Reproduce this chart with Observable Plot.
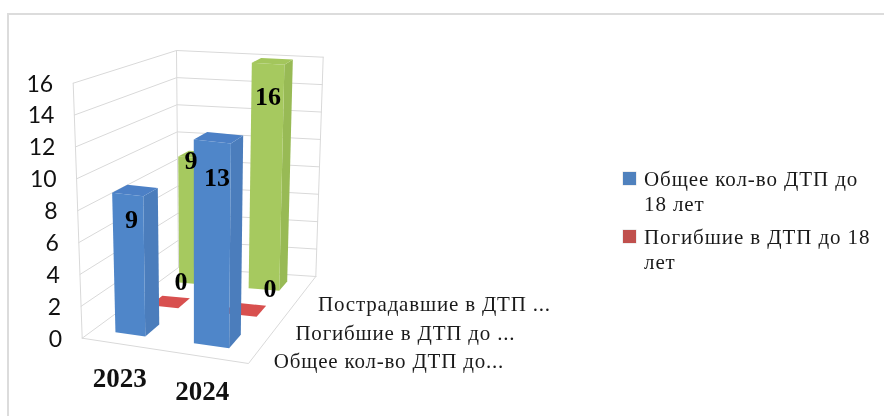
<!DOCTYPE html>
<html><head><meta charset="utf-8">
<script src="https://cdn.jsdelivr.net/npm/d3@7"></script>
<script src="https://cdn.jsdelivr.net/npm/@observablehq/plot@0.6"></script>
<style>
html,body{margin:0;padding:0;background:#fff;width:884px;height:416px;overflow:hidden}
#frame{position:absolute;left:7px;top:13px;width:900px;height:420px;border:2px solid #dcdcdc;box-sizing:border-box}
#chart{position:absolute;left:0;top:0;filter:blur(.45px)}
#legend{position:absolute;left:623px;top:167px;width:250px;font:21px "Liberation Serif",serif;letter-spacing:.9px;line-height:25px;color:#1a1a1a;filter:blur(.35px)}
#legend .row{position:relative;padding-left:21px;margin-bottom:8px}
#legend i{position:absolute;left:0;top:5px;width:13px;height:13px;box-shadow:0 0 0 .5px #ddd}
.ser{letter-spacing:.8px}
</style></head><body>
<div id="frame"></div><div id="chart"></div><div id="legend"></div>
<script>
const categories = ["2023","2024"];
const seriesNames = ["Общее кол-во ДТП до 18 лет","Погибшие в ДТП до 18 лет","Пострадавшие в ДТП до 18 лет"];
const depthLabels = ["Общее кол-во ДТП до...","Погибшие в ДТП до ...","Пострадавшие в ДТП ..."];
const totalValues = [9,13];
const deathValues = [0,0];
const injuredValues = [9,16];
const valueTicks = [0,2,4,6,8,10,12,14,16];
const legendColors = ["#4f81bd","#c0504d"];

// Perspective of the 3D box: floor corners, then the rise of the box above each corner
const zMax = 16;
const floorQuad = [[81.7,337.7],[248,363],[315.3,276],[178,267]];
const riseQuad  = [[-9,255],[3,261],[7.4,219.3],[-2,217]];
const depthAt = [1/6,.46,5/6];
function squareToQuad(q){
  const [[x0,y0],[x1,y1],[x2,y2],[x3,y3]] = q;
  const dx1=x1-x2,dx2=x3-x2,sx=x0-x1+x2-x3,dy1=y1-y2,dy2=y3-y2,sy=y0-y1+y2-y3;
  const den=dx1*dy2-dx2*dy1;
  const g=(sx*dy2-dx2*sy)/den,h=(dx1*sy-sx*dy1)/den;
  const a=x1-x0+g*x1,b=x3-x0+h*x3,c=x0,d=y1-y0+g*y1,e=y3-y0+h*y3,f=y0;
  return (u,v)=>{const w=g*u+h*v+1;return [(a*u+b*v+c)/w,(d*u+e*v+f)/w];};
}
const floorP = squareToQuad(floorQuad);
const bil = (k,u,v)=>{const p=Math.pow(v,.7);return (1-p)*((1-u)*riseQuad[0][k]+u*riseQuad[1][k])+p*((1-u)*riseQuad[3][k]+u*riseQuad[2][k]);};
const project = (u,v,z)=>{const a=floorP(u,v),t=z/zMax;return {x:a[0]+bil(0,u,v)*t,y:a[1]-bil(1,u,v)*t};};

const uBand = d3.scaleBand().domain(categories).range([0,1]).paddingInner(.6).paddingOuter(.3);
const vBand = d3.scaleBand().domain(seriesNames).range([0,1]).paddingInner(.6).paddingOuter(.3);

const palette = [
  {front:"#4f86c9",side:"#4b7dbc",top:"#4c80c6"},
  {front:"#d8504f",side:"#d8504f",top:"#d8504f"},
  {front:"#a6c95f",side:"#98ba55",top:"#a3c65c"}
];
const seriesValues = [totalValues,deathValues,injuredValues];

const faces = [];
const polys = (pts,fill)=>faces.push({pts,fill});
for (const s of [2,1,0]) {
  categories.forEach((c,i)=>{
    const z=seriesValues[s][i], u0=uBand(c), u1=u0+uBand.bandwidth(), v0=vBand(seriesNames[s]), v1=v0+vBand.bandwidth(), col=palette[s];
    if (z>0){
      polys([project(u1,v0,0),project(u1,v1,0),project(u1,v1,z),project(u1,v0,z)],col.side);
      polys([project(u0,v0,0),project(u1,v0,0),project(u1,v0,z),project(u0,v0,z)],col.front);
    }
    polys([project(u0,v0,z),project(u1,v0,z),project(u1,v1,z),project(u0,v1,z)],col.top);
  });
}

const grid = [];
for (const t of valueTicks) {
  grid.push([project(0,0,t),project(0,1,t),project(1,1,t)]);
}
grid.push([project(0,0,0),project(0,0,zMax)]);
grid.push([project(0,1,0),project(0,1,zMax)]);
grid.push([project(1,1,0),project(1,1,zMax)]);
grid.push([project(0,0,0),project(1,0,0),project(1,1,0)]);

const dataLabels = [
  {s:2,i:0,dx:-1,dy:3},{s:2,i:1,dx:0,dy:33},
  {s:1,i:0,dx:17,dy:-25},{s:1,i:1,dx:30,dy:-26},
  {s:0,i:0,dx:4,dy:25},{s:0,i:1,dx:5,dy:36}
].map(d=>{
  const c=categories[d.i], u=uBand(c)+uBand.bandwidth()/2, v=vBand(seriesNames[d.s]), z=seriesValues[d.s][d.i], p=project(u,v,z);
  return {x:p.x+d.dx,y:p.y+d.dy,t:String(z)};
});

const plot = Plot.plot({
  width:884,height:416,margin:0,
  x:{domain:[0,884],range:[0,884],axis:null},
  y:{domain:[0,416],range:[0,416],axis:null},
  marks:[
    ...grid.map(g=>Plot.line(g,{x:"x",y:"y",stroke:"#d9d9d9",strokeWidth:1})),
    ...faces.map(f=>Plot.line(f.pts,{x:"x",y:"y",fill:f.fill,stroke:"none"})),
    Plot.text(valueTicks,{x:t=>project(0,0,t).x-20,y:t=>project(0,0,t).y+1,text:t=>String(t),textAnchor:"end",fontFamily:"Lato",fontSize:23,fill:"#111"}),
    Plot.text(categories,{x:c=>project(uBand(c)+uBand.bandwidth()/2,0,0).x+1,y:c=>project(uBand(c)+uBand.bandwidth()/2,0,0).y+35,text:c=>c,fontFamily:"Liberation Serif",fontWeight:"bold",fontSize:27,fill:"#111"}),
    Plot.text(depthLabels,{x:(d,i)=>project(1,depthAt[i],0).x+11,y:(d,i)=>project(1,depthAt[i],0).y+16,text:d=>d,textAnchor:"start",fontFamily:"Liberation Serif",fontSize:21,fill:"#1a1a1a",className:"ser"}),
    Plot.text(dataLabels,{x:"x",y:"y",text:"t",fontFamily:"Liberation Serif",fontWeight:"bold",fontSize:26,fill:"#000"})
  ]
});
document.getElementById("chart").append(plot);

const lg=document.getElementById("legend");
[[0,"Общее кол-во ДТП до 18 лет"],[1,"Погибшие в ДТП до 18 лет"]].forEach(([i,t])=>{
  const r=document.createElement("div");r.className="row";
  const sw=document.createElement("i");sw.style.background=legendColors[i];
  r.append(sw,document.createTextNode(t));lg.append(r);
});
</script>
</body></html>
